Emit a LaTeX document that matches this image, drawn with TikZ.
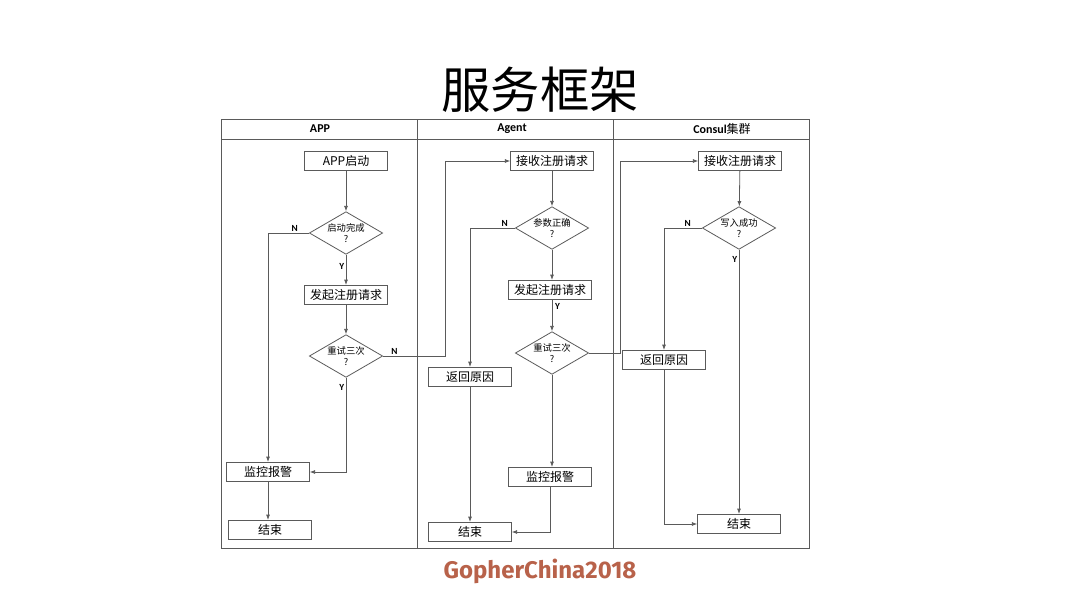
\documentclass[tikz,border=0pt]{standalone}
\usepackage{fontspec}
\usepackage{xcolor}
\setmainfont{Carlito}
\newfontfamily\cjk{Noto Sans CJK SC}
\newfontfamily\footfont{Fira Sans}
\usetikzlibrary{arrows.meta, positioning, shapes.geometric}
\definecolor{footred}{RGB}{184,98,74}
\definecolor{wire}{RGB}{90,90,90}

\begin{document}
\begin{tikzpicture}[x=0.75pt, y=-0.75pt,
    line/.style={draw=wire, line width=0.6pt},
    arr/.style={line, -{Latex[length=4pt,width=3pt]}},
    box/.style={draw=wire, line width=0.6pt, minimum width=62pt, minimum height=14.5pt,
        inner sep=0pt, font=\cjk\fontsize{9}{10}\selectfont},
    dec/.style={diamond, draw=wire, line width=0.6pt, aspect=1.7, inner sep=0pt,
        minimum width=55pt, minimum height=32pt, align=center,
        font=\cjk\fontsize{7}{8.5}\selectfont},
    lbl/.style={font=\bfseries\fontsize{7}{8}\selectfont, inner sep=1pt},
    head/.style={font=\bfseries\fontsize{9}{10}\selectfont}]
    \useasboundingbox (0,0) rectangle (1080,608);

    % Title
    \node (title) at (540,90) {\cjk\fontsize{37}{40}\selectfont 服务框架};

    % Swimlane frame
    \draw[line] (221,119) rectangle (809,548);
    \draw[line] (221,139) -- (809,139);
    \draw[line] (417,119) -- (417,548);
    \draw[line] (613,119) -- (613,548);
    \node[head] (hApp) at (320,129) {APP};
    \node[head] (hAgent) at (512,129) {Agent};
    \node[head] (hConsul) at (722,129) {Consul{\cjk\mdseries 集群}};

    % APP lane
    \node[box] (a1) at (346,161) {APP启动};
    \node[dec] (d1) at (346,233) {启动完成\\?};
    \node[box] (a2) at (346,295) {发起注册请求};
    \node[dec] (d2) at (346,356) {重试三次\\?};
    \node[box] (m1) at (268,472) {监控报警};
    \node[box] (e1) at (270,530) {结束};

    % Agent lane
    \node[box] (r2) at (552,161) {接收注册请求};
    \node[dec] (d3) at (552,228) {参数正确\\?};
    \node[box] (a3) at (550,290) {发起注册请求};
    \node[dec] (d4) at (552,353) {重试三次\\?};
    \node[box] (m2) at (550,477) {监控报警};
    \node[box] (b2) at (470,377) {返回原因};
    \node[box] (e2) at (470,532) {结束};

    % Consul lane
    \node[box] (r3) at (740,161) {接收注册请求};
    \node[dec] (d5) at (739,228) {写入成功\\?};
    \node[box] (b3) at (664,360) {返回原因};
    \node[box] (e3) at (739,524) {结束};

    % Turning points between lanes
    \coordinate (j1) at (445,0);
    \coordinate (j2) at (620,0);

    % Connectors, APP
    \draw[arr] (a1) -- (d1);
    \draw[arr] (d1.west) node[lbl, above left=0pt and 7pt] {N} -| (m1.north);
    \draw[arr] (d1.south) node[lbl, below left=5pt and 0pt] {Y} -- (a2.north);
    \draw[arr] (a2) -- (d2);
    \draw[arr] (d2.east) node[lbl, above right=0pt and 5pt] {N} -- (d2.east -| j1) |- (r2.west);
    \draw[arr] (d2.south) node[lbl, below left=4pt and 0pt] {Y} |- (m1.east);
    \draw[arr] (m1.south) -- (m1.south |- e1.north);

    % Connectors, Agent
    \draw[arr] (r2) -- (d3);
    \draw[arr] (d3.west) node[lbl, above left=0pt and 4pt] {N} -| (b2.north);
    \draw[arr] (d3.south) -- (d3.south |- a3.north);
    \draw[arr] (a3.south -| d4.north) node[lbl, below right=1pt and 1pt] {Y} -- (d4.north);
    \draw[arr] (d4.east) -- (d4.east -| j2) |- (r3.west);
    \draw[arr] (d4.south) -- (d4.south |- m2.north);
    \draw[arr] (m2.south) |- (e2.east);
    \draw[arr] (b2) -- (e2);

    % Connectors, Consul
    \draw[arr] (r3) -- (d5);
    \draw[arr] (d5.west) node[lbl, above left=0pt and 7pt] {N} -| (b3.north);
    \draw[arr] (d5.south) node[lbl, below left=4pt and 0pt] {Y} -- (e3.north);
    \draw[arr] (b3.south) |- (e3.west);

    % Footer
    \node[text=footred] (foot) at (540,571) {\footfont\bfseries\fontsize{18}{21}\selectfont GopherChina2018};
\end{tikzpicture}
\end{document}
